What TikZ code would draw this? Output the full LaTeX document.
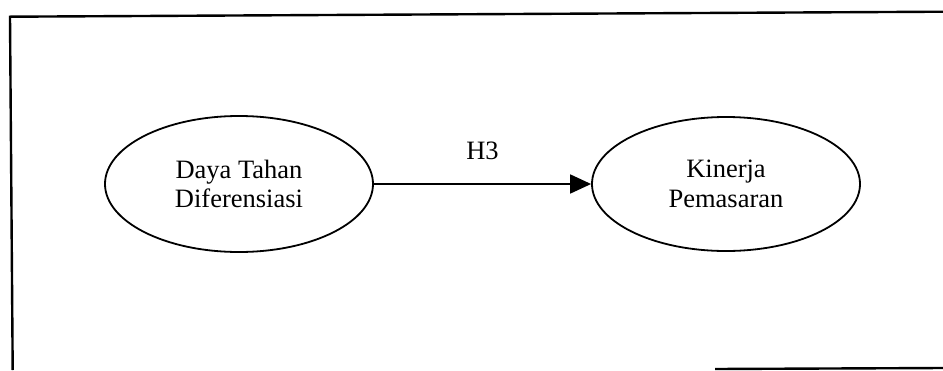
\documentclass[tikz,border=0pt]{standalone}
\usepackage{fontspec}
\setmainfont{Liberation Serif}
\usetikzlibrary{shapes.geometric,arrows.meta}
\begin{document}
\begin{tikzpicture}[x=1pt,y=-1pt,
  construct/.style={ellipse,draw,line width=1.8pt,inner sep=0pt,
    minimum width=268pt,minimum height=136pt,align=center,
    font=\fontsize{26.5}{29.5}\selectfont},
  frameline/.style={line width=2.4pt},
  path arrow/.style={line width=1.8pt,-{Triangle[length=21pt,width=19pt]}},
  lbl/.style={font=\fontsize{26.5}{26.5}\selectfont,inner sep=0pt}]
  \useasboundingbox (0,0) rectangle (943,370);
  % open frame around the model
  \coordinate (tr) at (943,11.7);
  \coordinate (tl) at (10,16.7);
  \coordinate (bl) at (12.7,370);
  \coordinate (bs) at (715,369);
  \coordinate (be) at (943,368);
  \draw[frameline] (tr) -- (tl) -- (bl);
  \draw[frameline] (bs) -- (be);
  % constructs
  \node[construct] (dtd) at (239,184) {Daya Tahan\\Diferensiasi};
  \node[construct,minimum height=134pt] (kp) at (726,184) {Kinerja\\Pemasaran};
  % hypothesis path
  \draw[path arrow] (dtd.east) -- (kp.west) node[midway,lbl,above=23pt] (h3) {H3};
\end{tikzpicture}
\end{document}
